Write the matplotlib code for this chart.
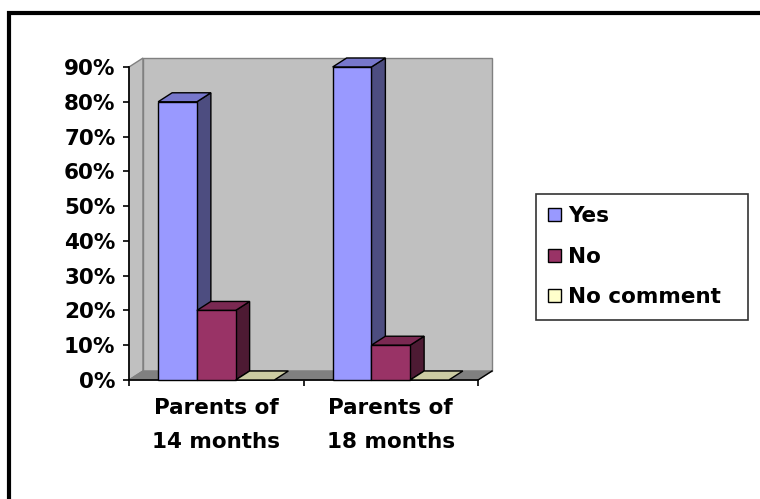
import matplotlib.pyplot as plt
from matplotlib.patches import Polygon, Patch
from matplotlib.lines import Line2D

categories = ['Parents of\n14 months', 'Parents of\n18 months']
series_names = ['Yes', 'No', 'No comment']
yes_values = [80, 90]
no_values = [20, 10]
no_comment_values = [0, 0]
y_ticks = [0, 10, 20, 30, 40, 50, 60, 70, 80, 90]
y_tick_labels = ['0%', '10%', '20%', '30%', '40%', '50%', '60%', '70%', '80%', '90%']

# (front, top, side) shades in the old Excel 3D look
colors = {
    'Yes': ('#9999FF', '#7777CC', '#4D4D80'),
    'No': ('#993366', '#7A2952', '#4D1A33'),
    'No comment': ('#FFFFCC', '#CCCCA3', '#80806A'),
}

W, H = 760, 499
fig = plt.figure(figsize=(W / 100, H / 100), dpi=100, facecolor='white')
ax = fig.add_axes([129 / W, 1 - 380 / H, 349 / W, 313 / H])
ax.set_xlim(0, len(categories))
ax.set_ylim(0, 90)
ax.set_facecolor('none')

font = dict(family='DejaVu Sans', weight='bold', size=15.5)

# depth of the 3D box in data units
DX = 14 / 174.5
DY = 9 / (313 / 90)

def poly(pts, fc, ec, lw=1.0, z=1):
    ax.add_patch(Polygon(pts, closed=True, facecolor=fc, edgecolor=ec,
                         linewidth=lw, clip_on=False, zorder=z))

n = len(categories)
# walls and floor
poly([(0, 0), (DX, DY), (DX, 90 + DY), (0, 90)], '#C0C0C0', '#808080', z=1)
poly([(DX, DY), (n + DX, DY), (n + DX, 90 + DY), (DX, 90 + DY)], '#C0C0C0', '#808080', z=1)
poly([(0, 0), (n, 0), (n + DX, DY), (DX, DY)], '#808080', '#808080', z=2)
ax.plot([n, n + DX], [0, DY], color='black', lw=1, clip_on=False, zorder=3)

bar_w = 0.222
all_values = [yes_values, no_values, no_comment_values]
for i in range(n):
    for k, name in enumerate(series_names):
        h = all_values[k][i]
        x0 = i + 0.5 + (k - 1.5) * bar_w
        x1 = x0 + bar_w
        front, top, side = colors[name]
        z = 5 + k
        if h > 0:
            poly([(x1, 0), (x1 + DX, DY), (x1 + DX, h + DY), (x1, h)], side, 'black', z=z)
        poly([(x0, h), (x1, h), (x1 + DX, h + DY), (x0 + DX, h + DY)], top, 'black', z=z)
        if h > 0:
            poly([(x0, 0), (x1, 0), (x1, h), (x0, h)], front, 'black', z=z)

# axes
for s in ['top', 'right']:
    ax.spines[s].set_visible(False)
ax.spines['left'].set_linewidth(1.2)
ax.spines['bottom'].set_linewidth(1.2)
ax.spines['left'].set_zorder(4)
ax.spines['bottom'].set_zorder(4)

ax.set_yticks(y_ticks)
ax.set_yticklabels(y_tick_labels, **font)
ax.tick_params(axis='y', direction='out', length=4.3, width=1.2, pad=5.5)

ax.set_xticks(range(n + 1))
ax.set_xticklabels([''] * (n + 1))
ax.set_xticks([i + 0.5 for i in range(n)], minor=True)
ax.set_xticklabels(categories, minor=True, linespacing=1.85, **font)
ax.tick_params(axis='x', which='major', direction='out', length=4.3, width=1.2)
ax.tick_params(axis='x', which='minor', length=0, pad=13)

handles = [Patch(facecolor=colors[name][0], edgecolor='black', linewidth=1) for name in series_names]
leg = fig.legend(handles, series_names, loc='upper left', mode='expand',
                 bbox_to_anchor=(536 / W, 1 - 317 / H, 212 / W, 123 / H),
                 prop=dict(family='DejaVu Sans', weight='bold', size=15.5),
                 handlelength=0.56, handleheight=0.56, handletextpad=0.36,
                 labelspacing=0.95, borderpad=0.58, borderaxespad=0,
                 fancybox=False, frameon=True)
leg.get_frame().set_edgecolor('black')
leg.get_frame().set_linewidth(1.2)

# outer frame, only left and top edges show
fig.add_artist(Line2D([9 / W, 9 / W], [0, 1 - 11 / H], color='black', lw=3,
                      solid_capstyle='butt', transform=fig.transFigure))
fig.add_artist(Line2D([7 / W, 1], [1 - 13 / H, 1 - 13 / H], color='black', lw=3,
                      solid_capstyle='butt', transform=fig.transFigure))

fig.savefig('out.png', dpi=100, facecolor='white')
